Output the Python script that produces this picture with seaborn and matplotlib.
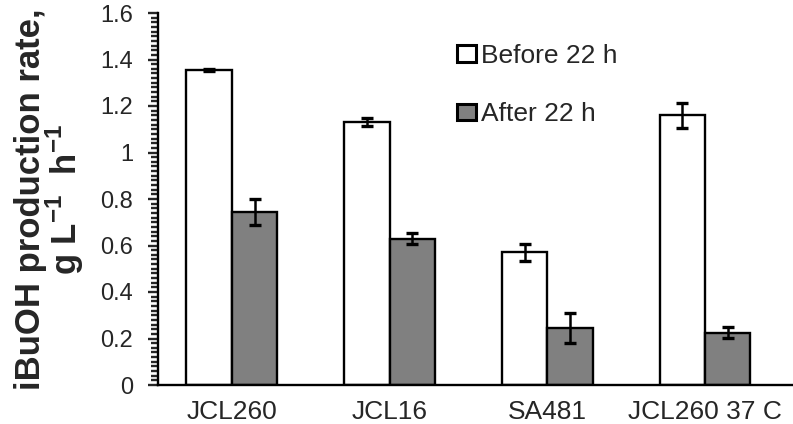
import matplotlib
matplotlib.use("Agg")
import matplotlib.pyplot as plt
import seaborn as sns
import pandas as pd
import numpy as np
from matplotlib.ticker import MultipleLocator, FixedLocator

strains = ["JCL260", "JCL16", "SA481", "JCL260 37 C"]
before_vals = [1.355, 1.130, 0.570, 1.160]
before_err = [0.005, 0.018, 0.035, 0.055]
after_vals = [0.745, 0.630, 0.245, 0.225]
after_err = [0.055, 0.025, 0.065, 0.024]
series = ["Before 22 h", "After 22 h"]
yticks = [0, 0.2, 0.4, 0.6, 0.8, 1, 1.2, 1.4, 1.6]
ytick_labels = ["0", "0.2", "0.4", "0.6", "0.8", "1", "1.2", "1.4", "1.6"]

df = pd.DataFrame({
    "strain": strains * 2,
    "period": [series[0]] * 4 + [series[1]] * 4,
    "rate": before_vals + after_vals,
    "err": before_err + after_err,
})

sns.set_style("white")
plt.rcParams["font.family"] = ["Liberation Sans", "DejaVu Sans"]
plt.rcParams["mathtext.fontset"] = "custom"
plt.rcParams["mathtext.rm"] = "Liberation Sans"
plt.rcParams["mathtext.bf"] = "Liberation Sans:bold"

fig = plt.figure(figsize=(7.93, 4.24), dpi=100)
ax = fig.add_axes([158 / 793, (424 - 385) / 424, (793 - 158) / 793, (385 - 13) / 424])

sns.barplot(data=df, x="strain", y="rate", hue="period", order=strains,
            hue_order=series, palette={series[0]: "white", series[1]: "#808080"},
            width=0.575, errorbar=None, edgecolor="black", linewidth=1.7,
            saturation=1, ax=ax)

# error bars at bar centres
patches = ax.patches[:8]
xs = [p.get_x() + p.get_width() / 2 for p in patches]
hs = [p.get_height() for p in patches]
errs = before_err + after_err
ax.errorbar(xs, hs, yerr=errs, fmt="none", ecolor="black", elinewidth=1.8,
            capsize=4.5, capthick=2.4, zorder=5)

ax.set_ylim(0, 1.6)
ax.set_xlim(-0.468, 3.557)
ax.yaxis.set_major_locator(FixedLocator(yticks))
ax.set_yticklabels(ytick_labels)
ax.yaxis.set_minor_locator(MultipleLocator(0.02))
ax.tick_params(axis="y", which="major", direction="out", length=7, width=1.7,
               labelsize=17, left=True, pad=11)
ax.tick_params(axis="y", which="minor", direction="out", length=5, width=1.7, left=True)
ax.tick_params(axis="x", which="both", length=0, labelsize=19, pad=11)
for s in ["top", "right"]:
    ax.spines[s].set_visible(False)
for s in ["left", "bottom"]:
    ax.spines[s].set_linewidth(1.7)
    ax.spines[s].set_color("black")

ax.set_xlabel("")
ax.set_ylabel("iBuOH production rate,\ng L$^{\\mathbf{-1}}$  h$^{\\mathbf{-1}}$",
              fontsize=25, fontweight="bold", labelpad=10, linespacing=0.92)

leg = ax.legend(loc="upper left", bbox_to_anchor=(0.455, 0.945), frameon=False,
                fontsize=19, labelspacing=1.3, handlelength=0.7, handleheight=0.6,
                handletextpad=0.2, borderaxespad=0)
for h in leg.legend_handles:
    h.set_linewidth(2.2)

fig.savefig("out.png", dpi=100)
